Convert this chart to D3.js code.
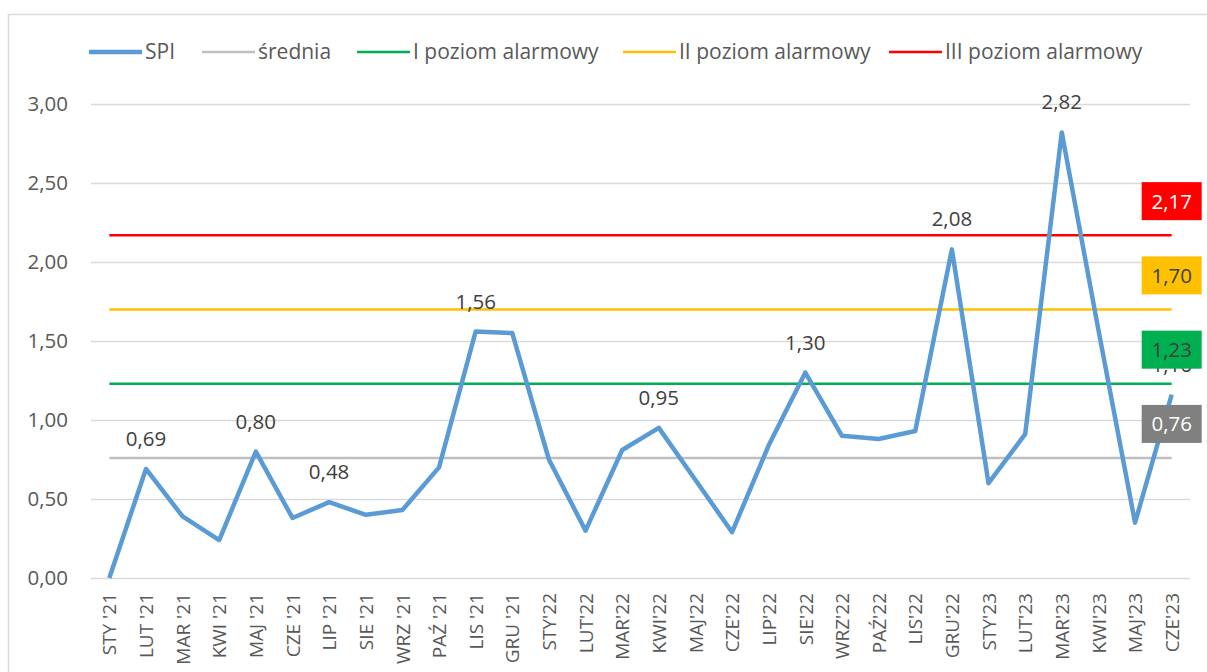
<!DOCTYPE html>
<html>
<head>
<meta charset="utf-8">
<script src="https://cdn.jsdelivr.net/npm/d3@7"></script>
<style>
  body { margin: 0; background: #fff; }
  svg { display: block; font-family: 'Open Sans', sans-serif; }
</style>
</head>
<body>
<svg id="chart"></svg>
<script>
const months = [
  "STY '21", "LUT '21", "MAR '21", "KWI '21", "MAJ '21", "CZE '21",
  "LIP '21", "SIE '21", "WRZ '21", "PAŹ '21", "LIS '21", "GRU '21",
  "STY'22", "LUT'22", "MAR'22", "KWI'22", "MAJ'22", "CZE'22",
  "LIP'22", "SIE'22", "WRZ'22", "PAŹ'22", "LIS'22", "GRU'22",
  "STY'23", "LUT'23", "MAR'23", "KWI'23", "MAJ'23", "CZE'23"
]
const spi = [
  0, 0.69, 0.39, 0.24, 0.80, 0.38, 0.48, 0.40, 0.43, 0.70, 1.56, 1.55,
  0.75, 0.30, 0.81, 0.95, 0.62, 0.29, 0.84, 1.30, 0.90, 0.88, 0.93, 2.08,
  0.60, 0.91, 2.82, 1.57, 0.35, 1.16
]
// points that carry a value label
const labelled = ["LUT '21", "MAJ '21", "LIP '21", "LIS '21", "KWI'22", "SIE'22", "GRU'22", "MAR'23", "CZE'23"]

const levelNames = ['średnia', 'I poziom alarmowy', 'II poziom alarmowy', 'III poziom alarmowy']
const levelValues = [0.76, 1.23, 1.70, 2.17]
const levelColors = ['#BFBFBF', '#00B050', '#FFC000', '#FF0000']
const boxColors = ['#808080', '#00B050', '#FFC000', '#FF0000']
const boxTextColors = ['#fff', '#404040', '#404040', '#fff']

const yTicks = [0, 0.5, 1, 1.5, 2, 2.5, 3]

const W = 1207, H = 672
const fmt = v => d3.format('.2f')(v).replace('.', ',')

const svg = d3.select('#chart').attr('width', W).attr('height', H)

// chart frame
svg.append('path')
  .attr('d', `M8.5,${H} V14.5 H${W}`)
  .attr('fill', 'none')
  .attr('stroke', '#D9D9D9')
  .attr('stroke-width', 1.5)

const x = d3.scalePoint().domain(months).range([91, 1190]).padding(0.5)
const y = d3.scaleLinear().domain([0, 3]).range([578, 104])

// gridlines + y axis
const yAxis = d3.axisLeft(y).tickValues(yTicks).tickFormat(fmt).tickSize(-(1190 - 91)).tickPadding(23)
const gy = svg.append('g').attr('transform', 'translate(91,0)').call(yAxis)
gy.select('.domain').remove()
gy.selectAll('line').attr('stroke', '#D9D9D9').attr('stroke-width', 1.5)
gy.selectAll('text').attr('fill', '#595959').style('font-size', '20.5px').style('font-family', 'Open Sans')

// x axis
const xAxis = d3.axisBottom(x).tickSize(0).tickPadding(0)
const gx = svg.append('g').attr('transform', 'translate(0,578)').call(xAxis)
gx.select('.domain').remove()
gx.selectAll('text')
  .attr('fill', '#595959')
  .style('font-size', '19px')
  .style('font-family', 'Open Sans')
  .attr('text-anchor', 'end')
  .attr('transform', 'rotate(-90)')
  .attr('x', -15)
  .attr('y', 0)
  .attr('dy', '0.35em')

// reference levels
const x0 = x(months[0]), x1 = x(months[months.length - 1])
levelValues.forEach((v, i) => {
  svg.append('line')
    .attr('x1', x0).attr('x2', x1)
    .attr('y1', y(v)).attr('y2', y(v))
    .attr('stroke', levelColors[i])
    .attr('stroke-width', 2.5)
})

// SPI line
const line = d3.line().x((d, i) => x(months[i])).y(d => y(d))
svg.append('path')
  .datum(spi)
  .attr('d', line)
  .attr('fill', 'none')
  .attr('stroke', '#5B9BD5')
  .attr('stroke-width', 4.5)
  .attr('stroke-linejoin', 'round')

// SPI value labels
svg.selectAll('.vlabel')
  .data(months.map((m, i) => ({ m, v: spi[i] })).filter(d => labelled.includes(d.m)))
  .enter()
  .append('text')
  .attr('class', 'vlabel')
  .attr('x', d => x(d.m))
  .attr('y', d => y(d.v) - 23)
  .attr('text-anchor', 'middle')
  .attr('fill', '#404040')
  .style('font-size', '20.5px')
  .text(d => fmt(d.v))

// level value boxes at last category
levelValues.forEach((v, i) => {
  const cx = x1, cy = y(v) - 34
  svg.append('rect')
    .attr('x', cx - 30).attr('y', cy - 19)
    .attr('width', 60).attr('height', 38)
    .attr('fill', boxColors[i])
  svg.append('text')
    .attr('x', cx).attr('y', cy)
    .attr('dy', '0.36em')
    .attr('text-anchor', 'middle')
    .attr('fill', boxTextColors[i])
    .style('font-size', '20.5px')
    .text(fmt(v))
})

// legend
const legend = [
  { name: 'SPI', color: '#5B9BD5', w: 4.5, x: 89 },
  { name: levelNames[0], color: levelColors[0], w: 2.5, x: 202 },
  { name: levelNames[1], color: levelColors[1], w: 2.5, x: 357 },
  { name: levelNames[2], color: levelColors[2], w: 2.5, x: 623 },
  { name: levelNames[3], color: levelColors[3], w: 2.5, x: 889 }
]
const lg = svg.append('g').attr('transform', 'translate(0,52)')
legend.forEach(d => {
  lg.append('line')
    .attr('x1', d.x).attr('x2', d.x + 53)
    .attr('stroke', d.color).attr('stroke-width', d.w)
  lg.append('text')
    .attr('x', d.x + 56).attr('dy', '0.35em')
    .attr('fill', '#595959')
    .style('font-size', '21px')
    .text(d.name)
})
</script>
</body>
</html>
